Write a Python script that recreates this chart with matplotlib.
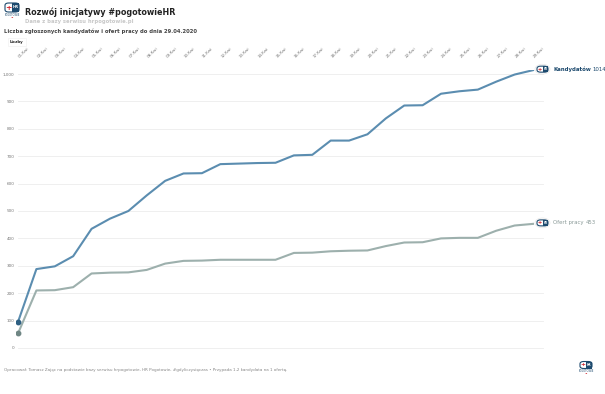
import matplotlib.pyplot as plt
from matplotlib.patches import FancyBboxPatch, Circle, Rectangle

# dane
dates = [f"{d:02d}.Kwi" for d in range(1, 30)]
kandydaci = [95, 288, 298, 335, 435, 472, 500, 557, 610, 637, 638, 671, 673, 675, 676,
             703, 705, 757, 757, 780, 838, 885, 886, 928, 937, 943, 972, 998, 1014]
oferty = [53, 210, 211, 222, 272, 275, 276, 285, 308, 318, 319, 322, 322, 322, 322,
          347, 348, 353, 355, 356, 372, 385, 386, 400, 402, 402, 428, 447, 453]
yticks = [0, 100, 200, 300, 400, 500, 600, 700, 800, 900, 1000]

BLUE = '#5b8db0'
BLUE_D = '#2d5f82'
GREY = '#9db0ad'
GREY_D = '#6f8684'
NAVY = '#1d4a6e'

W, H = 605, 394
fig = plt.figure(figsize=(W / 100, H / 100), dpi=100)


def fx(px):
    return px / W


def fy(py):
    return 1 - py / H


def logo(cx, cy, w, h):
    # prosty znaczek pogotowieHR
    x0, y0 = fx(cx - w / 2), fy(cy + h / 2)
    fig.patches.append(FancyBboxPatch((x0, y0), fx(w), h / H, boxstyle="round,pad=0,rounding_size=0.006",
                                      transform=fig.transFigure, fc='white', ec=NAVY, lw=0.8))
    fig.patches.append(Rectangle((fx(cx), y0), fx(w / 2), h / H, transform=fig.transFigure,
                                 fc=NAVY, ec='none'))
    fig.text(fx(cx - w / 4), fy(cy), '+', color='#d0202a', fontsize=h * 0.6, fontweight='bold',
             ha='center', va='center')
    fig.text(fx(cx + w / 4), fy(cy), 'HR', color='white', fontsize=h * 0.3, fontweight='bold',
             ha='center', va='center')


left_px, right_px = 16, 545
ax = fig.add_axes([fx(left_px), fy(352), fx(right_px - left_px), (352 - 70) / H])
x = list(range(len(dates)))

ax.plot(x, kandydaci, color=BLUE, lw=1.5, zorder=3)
ax.plot(x, oferty, color=GREY, lw=1.5, zorder=3)
ax.plot(x[0], kandydaci[0], 'o', color=BLUE_D, ms=3.2, zorder=4)
ax.plot(x[0], oferty[0], 'o', color=GREY_D, ms=3.2, zorder=4)

step = (533 - 18) / 28
ax.set_xlim(-(18 - left_px) / step, 28 + (right_px - 533) / step)
ax.set_ylim(-14.6, 1014.6)
ax.set_yticks(yticks)
ax.set_yticklabels([f"{v:,}" for v in yticks], fontsize=3, color='#777777')
for v in yticks:
    ax.plot([0, 28 + 10 / step], [v, v], color='#ececec', lw=0.6, zorder=1)

ax.xaxis.tick_top()
ax.set_xticks(x)
ax.set_xticklabels(dates, rotation=45, fontsize=3, color='#777777', ha='left', va='bottom')
ax.tick_params(axis='both', length=0)
ax.tick_params(axis='x', pad=8)
ax.tick_params(axis='y', pad=1)
for s in ax.spines.values():
    s.set_visible(False)

# etykiety na końcach linii
for val, name, col in [(kandydaci[-1], 'Kandydatów', NAVY), (oferty[-1], 'Ofert pracy', '#8a9a98')]:
    py = H - ax.transData.transform((0, val))[1] - 1
    fig.patches.append(Circle((fx(542.5), fy(py)), 7.5 / W, transform=fig.transFigure,
                              fc='white', ec='#e6e6e6', lw=0.5))
    logo(542.5, py, 11, 6)
    bold = 'bold' if name == 'Kandydatów' else 'normal'
    t = fig.text(fx(553), fy(py), name, fontsize=3.9, color=col, fontweight=bold, va='center')
    fig.canvas.draw()
    bb = t.get_window_extent()
    fig.text(bb.x1 / W + 0.003, fy(py), str(val), fontsize=3.9, color=col, va='center')

# nagłówki
logo(12, 7.5, 14, 9)
fig.text(fx(12), fy(15), 'POGOTOWIE', fontsize=1.8, color=NAVY, ha='center', va='center')
fig.text(fx(12), fy(17.5), 'HR', fontsize=1.6, color='#d0202a', ha='center', va='center')
fig.text(fx(25), fy(12), 'Rozwój inicjatywy #pogotowieHR', fontsize=5.8, fontweight='bold',
         color='#222222', va='center')
fig.text(fx(25), fy(22), 'Dane z bazy serwisu hrpogotowie.pl', fontsize=3.8, fontweight='bold',
         color='#c8c8c8', va='center')
fig.text(fx(4), fy(31), 'Liczba zgłoszonych kandydatów i ofert pracy do dnia 29.04.2020',
         fontsize=3.8, fontweight='bold', color='#444444', va='center')
fig.text(fx(10), fy(42), 'Liczby', fontsize=2.8, fontweight='bold', color='#222222', va='center',
         bbox=dict(boxstyle='square,pad=0.5', fc='white', ec='#eeeeee', lw=0.4))

fig.text(fx(4), fy(370), 'Opracował: Tomasz Zając na podstawie bazy serwisu hrpogotowie, HR Pogotowie, '
         '#gdyliczysięczas • Przypada 1,2 kandydata na 1 ofertę.', fontsize=3.0, color='#888888',
         va='center')
logo(586, 365, 12, 7)
fig.text(fx(586), fy(371), 'POGOTOWIE', fontsize=1.8, color=NAVY, ha='center', va='center')
fig.text(fx(586), fy(373.5), 'HR', fontsize=1.6, color='#d0202a', ha='center', va='center')

fig.savefig('out.png', dpi=100)
